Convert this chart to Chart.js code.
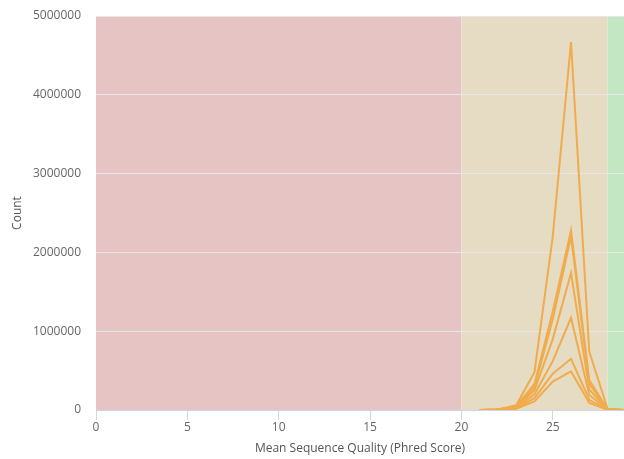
<!DOCTYPE html>
<html>
<head>
<meta charset="utf-8">
<script src="https://cdn.jsdelivr.net/npm/chart.js@4.4.1/dist/chart.umd.min.js"></script>
<style>
  html, body { margin: 0; padding: 0; background: #ffffff; }
  canvas { display: block; }
</style>
</head>
<body>
<canvas id="chart" width="624" height="459"></canvas>
<script>
// Mean Phred score per read (x) and read counts per sample
const phredScores = [21, 22, 23, 24, 25, 26, 27, 28, 29];
const sampleA = [1000, 8000, 60000, 480000, 2200000, 4670000, 740000, 15000, 0];
const sampleB = [1000, 6000, 45000, 330000, 1250000, 2280000, 380000, 10000, 0];
const sampleC = [800, 5000, 40000, 290000, 1150000, 2200000, 330000, 8000, 0];
const sampleD = [600, 4000, 32000, 250000, 900000, 1740000, 260000, 6000, 0];
const sampleE = [500, 3000, 26000, 200000, 620000, 1170000, 190000, 4000, 0];
const sampleF = [400, 2500, 20000, 150000, 460000, 650000, 130000, 3000, 0];
const sampleG = [300, 2000, 15000, 110000, 360000, 490000, 90000, 2000, 0];
const samples = [sampleA, sampleB, sampleC, sampleD, sampleE, sampleF, sampleG];

// Quality zones: poor / acceptable / good
const zoneBounds = [0, 20, 28, 29];
const zoneColors = ['#e6c4c4', '#e6dcc4', '#c3e6c3'];

const yTickValues = [0, 1000000, 2000000, 3000000, 4000000, 5000000];
const xTickValues = [0, 5, 10, 15, 20, 25];

const zonePlugin = {
  id: 'qualityZones',
  beforeDraw(chart) {
    const { ctx, chartArea } = chart;
    const x = chart.scales.x;
    ctx.save();
    for (let i = 0; i < zoneColors.length; i++) {
      const x0 = Math.max(x.getPixelForValue(zoneBounds[i]), chartArea.left);
      const x1 = Math.min(x.getPixelForValue(zoneBounds[i + 1]), chartArea.right);
      ctx.fillStyle = zoneColors[i];
      ctx.fillRect(x0, chartArea.top, x1 - x0, chartArea.bottom - chartArea.top);
    }
    ctx.restore();
  }
};

Chart.defaults.font.family = "'Open Sans', sans-serif";
Chart.defaults.font.size = 12;

new Chart(document.getElementById('chart'), {
  type: 'line',
  data: {
    datasets: samples.map((s, i) => ({
      label: 'Sample ' + (i + 1),
      data: phredScores.map((q, j) => ({ x: q, y: s[j] })),
      borderColor: '#f0ac4c',
      borderWidth: 2,
      pointRadius: 0,
      tension: 0,
      fill: false
    }))
  },
  options: {
    responsive: false,
    animation: false,
    layout: { padding: { top: 16, right: 0, bottom: 0, left: 0 } },
    plugins: { legend: { display: false }, tooltip: { enabled: false } },
    scales: {
      x: {
        type: 'linear',
        min: 0,
        max: 28.9,
        afterBuildTicks: s => { s.ticks = xTickValues.map(v => ({ value: v })); },
        afterFit: s => { s.height = 49; s.paddingLeft = 0; s.paddingRight = 0; },
        ticks: { color: '#666', padding: 0, maxRotation: 0 },
        grid: { drawOnChartArea: false, drawTicks: true, tickLength: 10, color: '#ccd6eb' },
        border: { color: '#ccd6eb' },
        title: {
          display: true,
          text: 'Mean Sequence Quality (Phred Score)',
          color: '#555',
          padding: { top: 0, bottom: 3 }
        }
      },
      y: {
        min: 0,
        max: 5000000,
        afterBuildTicks: s => { s.ticks = yTickValues.map(v => ({ value: v })); },
        afterFit: s => { s.width = 96; s.paddingTop = 0; s.paddingBottom = 0; },
        ticks: { color: '#666', padding: 15, callback: v => String(v) },
        grid: { color: '#e6e6e6', drawTicks: false },
        border: { display: false },
        title: {
          display: true,
          text: 'Count',
          color: '#555',
          padding: { top: 10, bottom: 0 }
        }
      }
    }
  },
  plugins: [zonePlugin]
});
</script>
</body>
</html>
